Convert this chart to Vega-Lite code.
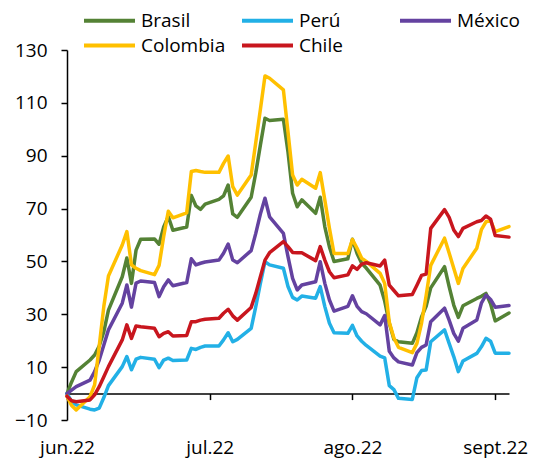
{
  "$schema": "https://vega.github.io/schema/vega-lite/v6.json",
  "width": 442,
  "height": 370,
  "autosize": {"type": "none"},
  "padding": {"left": 67, "top": 50, "right": 27, "bottom": 42},
  "background": "white",
  "config": {"font": "Open Sans", "view": {"stroke": null}},
  "data": {"values": [
    {"date": "2022/06/01", "Brasil": 0, "Perú": 0, "México": 0, "Colombia": -1, "Chile": -1},
    {"date": "2022/06/02", "Brasil": 4.4, "Perú": -3, "México": 1.3, "Colombia": -4.5, "Chile": -2.7},
    {"date": "2022/06/03", "Brasil": 8.3, "Perú": -4.3, "México": 2.6, "Colombia": -6.2, "Chile": -3.1},
    {"date": "2022/06/06", "Brasil": 12.7, "Perú": -5.9, "México": 5.1, "Colombia": -1.2, "Chile": -2.4},
    {"date": "2022/06/07", "Brasil": 14.6, "Perú": -6.2, "México": 8.3, "Colombia": 3.3, "Chile": -0.5},
    {"date": "2022/06/08", "Brasil": 18, "Perú": -5.5, "México": 12.7, "Colombia": 18, "Chile": 2.6},
    {"date": "2022/06/09", "Brasil": 23.4, "Perú": -1.5, "México": 18.4, "Colombia": 33, "Chile": 6.4},
    {"date": "2022/06/10", "Brasil": 31.6, "Perú": 3, "México": 24.1, "Colombia": 44.5, "Chile": 10.2},
    {"date": "2022/06/13", "Brasil": 44.2, "Perú": 10.2, "México": 34.2, "Colombia": 56.2, "Chile": 20.3},
    {"date": "2022/06/14", "Brasil": 51.3, "Perú": 14, "México": 41.1, "Colombia": 61.3, "Chile": 26},
    {"date": "2022/06/15", "Brasil": 41.7, "Perú": 9, "México": 32.7, "Colombia": 48.7, "Chile": 20.9},
    {"date": "2022/06/16", "Brasil": 54.3, "Perú": 13, "México": 41.8, "Colombia": 47.4, "Chile": 25.6},
    {"date": "2022/06/17", "Brasil": 58.4, "Perú": 13.7, "México": 42.6, "Colombia": 46.5, "Chile": 25.3},
    {"date": "2022/06/20", "Brasil": 58.5, "Perú": 13, "México": 42, "Colombia": 45, "Chile": 24.7},
    {"date": "2022/06/21", "Brasil": 56.5, "Perú": 9.8, "México": 36.7, "Colombia": 48.5, "Chile": 21.5},
    {"date": "2022/06/22", "Brasil": 63, "Perú": 12.7, "México": 40.4, "Colombia": 59.4, "Chile": 22.8},
    {"date": "2022/06/23", "Brasil": 67, "Perú": 13.4, "México": 43, "Colombia": 69, "Chile": 23.4},
    {"date": "2022/06/24", "Brasil": 61.8, "Perú": 12.5, "México": 40.8, "Colombia": 66.5, "Chile": 21.8},
    {"date": "2022/06/27", "Brasil": 63, "Perú": 12.7, "México": 42, "Colombia": 68.4, "Chile": 22},
    {"date": "2022/06/28", "Brasil": 75, "Perú": 17.1, "México": 51, "Colombia": 84, "Chile": 27.2},
    {"date": "2022/06/29", "Brasil": 71, "Perú": 16.7, "México": 48.7, "Colombia": 84.4, "Chile": 27.2},
    {"date": "2022/06/30", "Brasil": 69.7, "Perú": 17.5, "México": 49.3, "Colombia": 84, "Chile": 27.8},
    {"date": "2022/07/01", "Brasil": 71.7, "Perú": 18, "México": 49.8, "Colombia": 83.7, "Chile": 28.1},
    {"date": "2022/07/04", "Brasil": 73.5, "Perú": 18, "México": 50.5, "Colombia": 83.7, "Chile": 28.5},
    {"date": "2022/07/05", "Brasil": 74.8, "Perú": 20.3, "México": 53.1, "Colombia": 87.1, "Chile": 30.4},
    {"date": "2022/07/06", "Brasil": 78.9, "Perú": 23, "México": 56.6, "Colombia": 89.9, "Chile": 31.9},
    {"date": "2022/07/07", "Brasil": 68, "Perú": 19.6, "México": 50.5, "Colombia": 78.3, "Chile": 29.4},
    {"date": "2022/07/08", "Brasil": 66.7, "Perú": 20.5, "México": 49.5, "Colombia": 75.1, "Chile": 27.8},
    {"date": "2022/07/11", "Brasil": 74.3, "Perú": 24.7, "México": 54.1, "Colombia": 82.7, "Chile": 32.6},
    {"date": "2022/07/12", "Brasil": 83.5, "Perú": 32.9, "México": 60.6, "Colombia": 95, "Chile": 37.9},
    {"date": "2022/07/13", "Brasil": 94, "Perú": 41.7, "México": 67.9, "Colombia": 107.5, "Chile": 44.2},
    {"date": "2022/07/14", "Brasil": 104.2, "Perú": 49.9, "México": 73.9, "Colombia": 120.2, "Chile": 50.5},
    {"date": "2022/07/15", "Brasil": 103.3, "Perú": 48.7, "México": 66.9, "Colombia": 119.3, "Chile": 53.3},
    {"date": "2022/07/18", "Brasil": 103.8, "Perú": 47.4, "México": 60.6, "Colombia": 114.9, "Chile": 57.5},
    {"date": "2022/07/19", "Brasil": 91.4, "Perú": 40.5, "México": 51.8, "Colombia": 99, "Chile": 55.6},
    {"date": "2022/07/20", "Brasil": 75.8, "Perú": 36.4, "México": 43.6, "Colombia": 82.7, "Chile": 53.4},
    {"date": "2022/07/21", "Brasil": 70.7, "Perú": 35.4, "México": 39.2, "Colombia": 78.9, "Chile": 53.3},
    {"date": "2022/07/22", "Brasil": 73.3, "Perú": 36.9, "México": 41.1, "Colombia": 81.1, "Chile": 53.3},
    {"date": "2022/07/25", "Brasil": 68.2, "Perú": 36.1, "México": 42.3, "Colombia": 77.7, "Chile": 50.3},
    {"date": "2022/07/26", "Brasil": 74.3, "Perú": 40.5, "México": 49.9, "Colombia": 83.6, "Chile": 55.6},
    {"date": "2022/07/27", "Brasil": 63.1, "Perú": 32.9, "México": 41.7, "Colombia": 73.2, "Chile": 50.5},
    {"date": "2022/07/28", "Brasil": 55.5, "Perú": 26.6, "México": 35.4, "Colombia": 62.5, "Chile": 46.1},
    {"date": "2022/07/29", "Brasil": 50, "Perú": 23, "México": 31.2, "Colombia": 53, "Chile": 43.8},
    {"date": "2022/08/01", "Brasil": 51, "Perú": 22.8, "México": 33, "Colombia": 53, "Chile": 44.9},
    {"date": "2022/08/02", "Brasil": 58.4, "Perú": 25.8, "México": 37, "Colombia": 58.3, "Chile": 48.3},
    {"date": "2022/08/03", "Brasil": 53, "Perú": 21.8, "México": 33, "Colombia": 55, "Chile": 47},
    {"date": "2022/08/04", "Brasil": 49.3, "Perú": 19.8, "México": 31, "Colombia": 51.2, "Chile": 49},
    {"date": "2022/08/05", "Brasil": 47.5, "Perú": 18.2, "México": 30.2, "Colombia": 50, "Chile": 49.5},
    {"date": "2022/08/08", "Brasil": 41, "Perú": 14.2, "México": 26, "Colombia": 45.5, "Chile": 48.3},
    {"date": "2022/08/09", "Brasil": 35, "Perú": 13.5, "México": 29.5, "Colombia": 41.7, "Chile": 50.5},
    {"date": "2022/08/10", "Brasil": 26.6, "Perú": 3, "México": 16, "Colombia": 27, "Chile": 41},
    {"date": "2022/08/11", "Brasil": 20.5, "Perú": 1.5, "México": 13.5, "Colombia": 21, "Chile": 39},
    {"date": "2022/08/12", "Brasil": 19.6, "Perú": -1.8, "México": 12, "Colombia": 17.5, "Chile": 37},
    {"date": "2022/08/15", "Brasil": 19, "Perú": -2.2, "México": 10.8, "Colombia": 15.5, "Chile": 37.5},
    {"date": "2022/08/16", "Brasil": 23, "Perú": 6, "México": 15.5, "Colombia": 19, "Chile": 41},
    {"date": "2022/08/17", "Brasil": 29, "Perú": 8.7, "México": 17.5, "Colombia": 26.6, "Chile": 44.7},
    {"date": "2022/08/18", "Brasil": 33, "Perú": 8.9, "México": 18.4, "Colombia": 37, "Chile": 45.2},
    {"date": "2022/08/19", "Brasil": 40, "Perú": 19.6, "México": 27.2, "Colombia": 48.5, "Chile": 62.5},
    {"date": "2022/08/22", "Brasil": 48, "Perú": 24.1, "México": 32.3, "Colombia": 58.8, "Chile": 69.6},
    {"date": "2022/08/23", "Brasil": 40.5, "Perú": 19, "México": 27.8, "Colombia": 53.2, "Chile": 66.7},
    {"date": "2022/08/24", "Brasil": 33.5, "Perú": 14, "México": 22.8, "Colombia": 47.4, "Chile": 61.9},
    {"date": "2022/08/25", "Brasil": 28.8, "Perú": 8.3, "México": 19.8, "Colombia": 41.7, "Chile": 59.4},
    {"date": "2022/08/26", "Brasil": 33.2, "Perú": 12.3, "México": 24.7, "Colombia": 47.3, "Chile": 62.5},
    {"date": "2022/08/29", "Brasil": 36, "Perú": 15.2, "México": 27.8, "Colombia": 55, "Chile": 65},
    {"date": "2022/08/30", "Brasil": 36.8, "Perú": 17.7, "México": 34.2, "Colombia": 62, "Chile": 65.5},
    {"date": "2022/08/31", "Brasil": 37.9, "Perú": 20.9, "México": 37.3, "Colombia": 65, "Chile": 67.2},
    {"date": "2022/09/01", "Brasil": 34, "Perú": 19.8, "México": 35.6, "Colombia": 65.4, "Chile": 66},
    {"date": "2022/09/02", "Brasil": 27.5, "Perú": 15.3, "México": 32.7, "Colombia": 61.3, "Chile": 59.8},
    {"date": "2022/09/05", "Brasil": 30.5, "Perú": 15.3, "México": 33.3, "Colombia": 63.2, "Chile": 59.2}
  ]},
  "transform": [{"fold": ["Brasil", "Perú", "México", "Colombia", "Chile"], "as": ["pais", "valor"]}],
  "mark": {"type": "line", "strokeWidth": 3.5, "strokeJoin": "round", "strokeCap": "round"},
  "encoding": {
    "x": {
      "field": "date", "type": "temporal",
      "scale": {"domain": [{"year": 2022, "month": 6, "date": 1}, {"year": 2022, "month": 9, "date": 5}]},
      "axis": {
        "title": null,
        "values": [{"year": 2022, "month": 6, "date": 1}, {"year": 2022, "month": 7, "date": 2}, {"year": 2022, "month": 8, "date": 2}, {"year": 2022, "month": 9, "date": 2}],
        "labelExpr": "['jun.22','jul.22','ago.22','sept.22'][month(datum.value)-5]",
        "offset": -26.4,
        "grid": false,
        "domainColor": "black", "domainWidth": 1.5,
        "tickColor": "black", "tickWidth": 1.5, "tickSize": 6,
        "labelPadding": 39, "labelFontSize": 19, "labelColor": "black",
        "labelFlush": false, "labelOverlap": false
      }
    },
    "y": {
      "field": "valor", "type": "quantitative",
      "scale": {"domain": [-10, 130], "nice": false, "zero": false},
      "axis": {
        "title": null,
        "values": [-10, 10, 30, 50, 70, 90, 110, 130],
        "grid": false,
        "domainColor": "black", "domainWidth": 1.5,
        "tickColor": "black", "tickWidth": 1.5, "tickSize": 6,
        "labelPadding": 14, "labelFontSize": 19, "labelColor": "black"
      }
    },
    "color": {
      "field": "pais", "type": "nominal",
      "scale": {"domain": ["Brasil", "Perú", "México", "Colombia", "Chile"], "range": ["#548235", "#22B0E6", "#6442A0", "#FFC000", "#C8161E"]},
      "legend": {
        "title": null, "orient": "none", "legendX": 15, "legendY": -40,
        "direction": "horizontal", "columns": 3, "gridAlign": "all",
        "symbolType": "M-1,0H5", "symbolSize": 289, "symbolStrokeWidth": 4,
        "labelFontSize": 19, "labelColor": "black", "labelOffset": 38,
        "columnPadding": 8, "rowPadding": 4
      }
    }
  }
}
